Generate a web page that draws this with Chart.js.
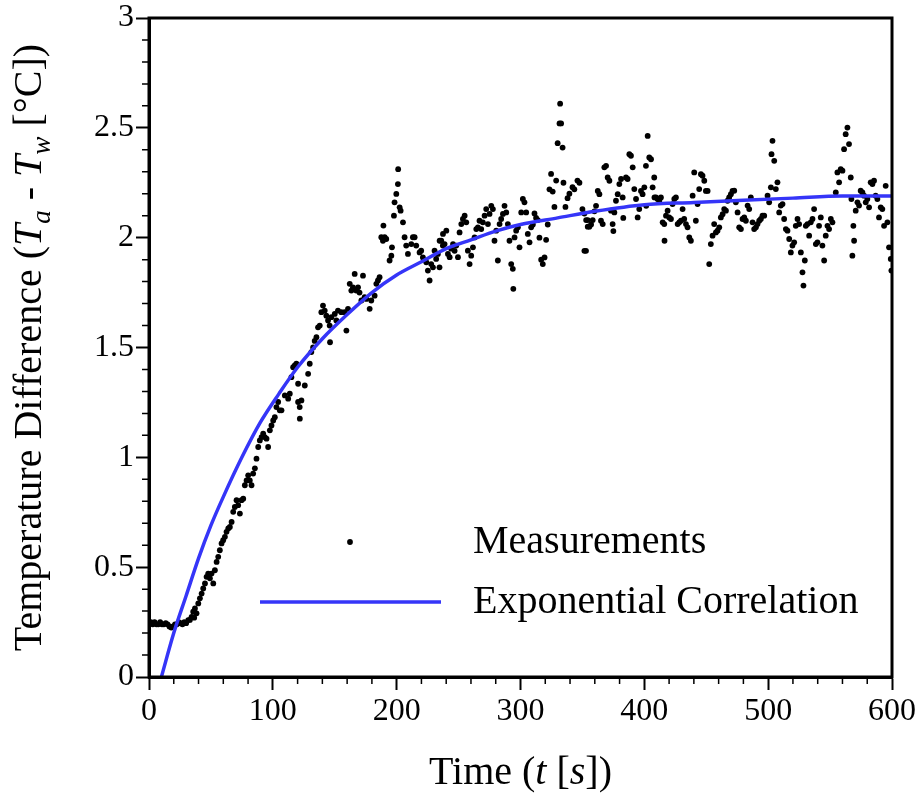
<!DOCTYPE html>
<html>
<head>
<meta charset="utf-8">
<script src="https://cdn.jsdelivr.net/npm/chart.js@4/dist/chart.umd.min.js"></script>
<style>
  html, body { margin: 0; padding: 0; background: #fff; }
</style>
</head>
<body>
<canvas id="myChart" width="922" height="795"></canvas>
<script>
const measTime = [
  0, 1.5, 3, 4.5, 6, 7.5, 9, 10.5, 12, 13.5, 15, 16.5, 18, 19.5, 21, 22.5, 24, 25.5, 27, 28.5, 30,
  31.7, 33, 34.4, 35.7, 36.5, 37.1, 38.4, 39.8, 41.1, 42.5, 43.8, 45.2, 46.5, 47.8, 49.2, 50.5, 51.9, 53.2,
  54.6, 55.9, 57.2, 58.6, 59.9, 61.3, 62.6, 64.0, 65.3, 66.7, 68.0, 69.3, 70.7, 72.0, 73.4, 74.7, 76.1,
  77.4, 78.8, 80.1, 81.4, 82.8, 84.1, 85.5, 86.8, 88.2, 89.5, 90.9, 92.2, 93.5, 94.9, 96.2, 97.6, 98.9,
  100.3, 101.6, 102.9, 104.3, 105.6, 107.0, 109.7, 112.4, 113.7, 115.0, 116.4, 117.7, 120.4, 121.8,
  119.0, 120.4, 121.7, 123.1, 125.8, 128.5, 129.8, 131.1, 132.5, 133.8, 135.2, 136.5, 137.9, 139.2, 140.5,
  141.9, 143.2, 144.6, 145.9, 146.2, 147.3, 150.0, 151.3, 152.6, 155.3, 158.0, 159.4, 160.7, 162.1, 163.4,
  164.7, 166.1, 167.4, 168.8, 170.0, 171.5, 172.8, 174.1, 175.5, 178.2, 179.5, 182.2, 183.6, 184.9, 186.2,
  187.6, 188.9, 189.3, 190.3, 191.6, 194.3, 195.7, 196.2, 197.8, 198.3, 199.7, 201.0, 201.2, 202.4, 203.2,
  205.1, 206.4, 207.7, 209.1, 211.8, 213.1, 214.5, 215.8, 218.5, 219.8, 221.2, 223.9, 225.2, 226.6, 227.9,
  229.3, 230.6, 231.9, 233.3, 234.6, 236.0, 237.3,
  234.7, 237.4, 238.7, 240.1, 241.4, 242.8, 244.0, 245.5, 246.8, 248.1, 249.5, 250.8, 252.2, 253.5, 254.9,
  256.2, 257.5, 258.9, 260.2, 261.6, 262.9, 264.3, 265.6, 266.9, 268.3, 269.6, 271.0, 272.3, 273.7, 275.0,
  276.4, 277.7, 279.0, 280.4, 281.7, 283.1, 284.4, 285.8, 287.1, 288.5, 289.8, 291.1, 292.5, 293.8, 294.2,
  295.2, 296.5, 297.9, 299.2, 300.6, 301.9, 303.2, 304.6, 305.9, 307.3, 308.6, 310.0, 311.3, 312.6, 314.0,
  315.3, 316.7, 318.0, 319.4, 320.7, 322.0, 323.4, 324.7, 326.0, 327.4, 328.8, 330.0, 331.5, 332.0, 332.8,
  334.0, 334.7, 336.3, 338.0, 339.5, 342.0, 343.5, 346.0, 347.6, 350.0, 351.6, 353.0, 354.3,
  351.6, 352.9, 354.3, 355.6, 357.0, 358.3, 359.7, 361.0, 362.4, 363.7, 365.0, 366.4, 367.7, 369.1, 370.4,
  371.8, 373.1, 374.4, 375.0, 375.8, 377.1, 378.5, 379.8, 381.2, 382.5, 383.0, 385.2, 386.5, 387.9, 389.2,
  390.6, 391.9, 393.3, 394.6, 395.9, 397.3, 398.6, 400.0, 401.3, 401.5, 402.7, 404.0, 405.4, 406.7, 408.0,
  408.2, 409.4, 410.7, 412.1, 413.4, 414.8, 416.1, 416.3, 417.5, 418.8, 420.1, 421.5, 422.8, 424.2, 425.5,
  426.9, 428.2, 429.6, 430.9, 432.2, 433.6, 434.9, 436.3, 437.6, 439.0, 440.3, 441.6, 443.0, 444.3, 445.7,
  447.0, 448.4, 449.7, 451.1, 452.4, 453.7, 455.1, 456.4, 457.8, 459.1, 460.5, 461.8, 463.2, 464.5, 465.9,
  467.2, 468.5, 469.9, 471.2,
  472.6, 473.9, 475.3, 476.6, 478.0, 479.3, 480.7, 482.0, 483.4, 484.7, 486.0, 487.4, 488.7, 490.1, 491.4,
  492.8, 494.1, 495.4, 496.8, 499.5, 500.8, 502.2, 502.7, 503.5, 504.9, 506.2, 507.5, 508.9, 510.2, 511.6,
  512.9, 514.3, 515.6, 517.0, 518.3, 519.6, 521.0, 522.3, 523.7, 525.0, 526.4, 527.7, 528.5, 529.6, 530.4,
  531.7, 533.1, 534.4, 535.8, 537.1, 538.5, 539.8, 541.1, 542.5, 543.8, 545.2, 546.5, 547.9, 549.2, 550.6,
  551.9, 554.6, 555.9, 557.3, 558.6, 560.0, 561.3, 562.6, 564.0, 565.3, 566.7, 567.2, 568.0, 568.8, 569.4,
  570.7, 572.1, 573.4, 574.7, 576.1, 577.4, 578.8, 580.1, 581.5, 582.8, 584.2, 585.5, 586.8, 588.2, 589.5,
  590.9, 592.2, 593.6, 594.9, 596.3, 597.6, 599.0, 599.5
];
const measValue = [
  0.24, 0.25, 0.24, 0.25, 0.24, 0.24, 0.25, 0.24, 0.24, 0.245, 0.24, 0.23, 0.225, 0.23, 0.24, 0.24, 0.25, 0.245, 0.24, 0.25, 0.245,
  0.259, 0.26, 0.274, 0.297, 0.27, 0.312, 0.29, 0.335, 0.358, 0.38, 0.403, 0.426, 0.456, 0.471, 0.449, 0.471, 0.426, 0.486,
  0.524, 0.547, 0.577, 0.608, 0.623, 0.638, 0.661, 0.676, 0.683, 0.706, 0.752, 0.774, 0.805, 0.782, 0.744, 0.805, 0.812,
  0.873, 0.895, 0.918, 0.895, 0.873, 0.926, 0.95, 0.994, 1.047, 1.077, 1.092, 1.108, 1.092, 1.085, 1.047, 1.123, 1.145,
  1.168, 1.183, 1.229, 1.252, 1.214, 1.214, 1.282, 1.267, 1.29, 1.365, 1.41, 1.418, 1.252, 1.176,
  1.426, 1.335, 1.229, 1.259, 1.327, 1.38, 1.426, 1.479, 1.50, 1.53, 1.547, 1.592, 1.6, 1.661, 1.691,
  1.668, 1.645, 1.623, 1.6, 1.524, 1.638, 1.653, 1.623, 1.668, 1.661, 1.661, 1.577, 1.676, 1.79, 1.759,
  1.774, 1.835, 1.759, 1.774, 1.75, 1.714, 1.827, 1.729, 1.721, 1.676, 1.714, 1.736, 1.79, 1.805, 1.82,
  2.002, 1.986, 2.055, 2.002, 1.994, 1.896, 1.918, 1.956, 2.1, 2.161, 2.199, 2.244, 2.312, 2.138, 2.123,
  2.07, 2.002, 1.964, 1.926, 1.971, 2.002, 2.002, 1.964, 1.933, 1.941, 1.91, 1.888, 1.85, 1.805, 1.88,
  1.865, 1.941, 1.903, 1.926, 1.865, 1.986, 1.964,
  1.986, 2.017, 1.971, 2.032, 1.926, 1.911, 1.95, 1.971, 1.94, 1.964, 1.911, 2.024, 2.062, 2.085, 2.1,
  2.07, 1.941, 1.88, 1.918, 1.956, 2.001, 2.039, 2.047, 2.077, 2.039, 2.07, 2.1, 2.13, 2.062, 2.108,
  2.145, 2.13, 1.986, 2.032, 1.896, 2.062, 2.085, 2.108, 2.145, 2.115, 2.062, 1.986, 1.88, 1.858, 1.767,
  2.001, 2.032, 2.047, 1.956, 2.115, 2.176, 2.161, 2.115, 2.017, 1.979, 2.047, 2.06, 2.11, 2.09, 2.08,
  2.0, 1.90, 1.88, 1.91, 1.99, 2.06, 2.22, 2.29, 2.21, 2.14, 2.26, 2.43, 2.52, 2.61, 2.52,
  2.41, 2.25, 2.14, 2.18, 2.20, 2.23, 2.22, 2.26, 2.25, 2.13, 1.94, 2.08, 2.05,
  2.11, 1.94, 2.08, 2.05, 2.06, 2.08, 2.12, 2.145, 2.213, 2.198, 2.077, 2.062, 2.32, 2.327, 2.274,
  2.259, 2.123, 2.062, 2.03, 2.115, 2.168, 2.198, 2.244, 2.267, 2.183, 2.09, 2.274, 2.267, 2.38, 2.373,
  2.32, 2.221, 2.176, 2.092, 2.13, 2.213, 2.198, 2.229, 2.327, 2.145, 2.463, 2.365, 2.357, 2.229, 2.274,
  2.183, 2.183, 2.176, 2.168, 2.183, 2.07, 2.062, 1.986, 2.1, 2.123, 2.092, 2.085, 2.153, 2.176, 2.183,
  2.062, 2.07, 2.077, 2.13, 2.085, 2.062, 2.047, 2.001, 1.986, 2.191, 2.297, 2.077, 2.153, 2.221, 2.289,
  2.282, 2.259, 2.213, 2.213, 1.88, 1.971, 2.009, 2.062, 2.024, 2.032, 2.047, 2.092, 2.107, 2.13, 2.123,
  2.168, 2.183, 2.198, 2.213,
  2.214, 2.161, 2.115, 2.047, 2.039, 2.085, 2.092, 2.077, 2.146, 2.13, 2.183, 2.07, 2.039, 2.047, 2.062,
  2.077, 2.085, 2.1, 2.1, 2.191, 2.161, 2.229, 2.38, 2.441, 2.35, 2.221, 2.252, 2.115, 2.146, 2.153,
  2.085, 2.039, 2.032, 1.994, 1.933, 1.964, 1.979, 2.054, 2.085, 2.062, 1.933, 1.842, 1.782, 1.896, 2.054,
  2.062, 2.009, 2.07, 2.085, 2.13, 1.971, 1.979, 2.054, 2.092, 1.964, 1.896, 2.009, 2.054, 2.039, 2.085,
  2.07, 2.206, 2.297, 2.252, 2.312, 2.305, 2.403, 2.471, 2.501, 2.426, 2.274, 2.176, 1.918, 2.054, 1.986,
  2.123, 2.161, 2.146, 2.214, 2.206, 2.191, 2.161, 2.176, 2.138, 2.252, 2.244, 2.259, 2.191, 2.176, 2.092,
  2.138, 2.13, 2.054, 2.236, 2.07, 1.956, 1.903, 1.85
];

// exponential correlation curve
const fitTime = [10, 20, 30, 40, 50, 60, 75, 90, 105, 120, 140, 160, 180, 200, 220, 240, 260, 280, 300, 330, 360, 400, 440, 480, 520, 560, 600];
const fitValue = [0, 0.2, 0.37, 0.54, 0.69, 0.82, 1.0, 1.16, 1.29, 1.41, 1.54, 1.65, 1.75, 1.83, 1.89, 1.95, 1.99, 2.03, 2.06, 2.09, 2.12, 2.15, 2.16, 2.17, 2.18, 2.19, 2.19];

const xTickLabels = ['0', '100', '200', '300', '400', '500', '600'];
const yTickLabels = ['0', '0.5', '1', '1.5', '2', '2.5', '3'];
const seriesNames = ['Measurements', 'Exponential Correlation'];

const SERIF = '"Liberation Serif", "Times New Roman", serif';
const BLUE = '#3535f8';

// text made of runs (italic / subscript parts)
function drawRuns(ctx, runs, x, y, size) {
  let total = 0;
  runs.forEach(r => {
    const s = r.sub ? size * 0.68 : size;
    ctx.font = (r.it ? 'italic ' : '') + s + 'px ' + SERIF;
    r.w = ctx.measureText(r.t).width;
    total += r.w;
  });
  let cx = x - total / 2;
  runs.forEach(r => {
    const s = r.sub ? size * 0.68 : size;
    ctx.font = (r.it ? 'italic ' : '') + s + 'px ' + SERIF;
    ctx.fillText(r.t, cx, y + (r.sub ? size * 0.22 : 0));
    cx += r.w;
  });
}

const framePlugin = {
  id: 'frame',
  afterDraw(chart) {
    const ctx = chart.ctx;
    const a = chart.chartArea;
    const xs = chart.scales.x, ys = chart.scales.y;
    ctx.save();
    ctx.strokeStyle = '#000';
    // minor ticks
    ctx.lineWidth = 1.5;
    ctx.beginPath();
    for (let v = 20; v < 600; v += 20) {
      if (v % 100 === 0) continue;
      const px = xs.getPixelForValue(v);
      ctx.moveTo(px, a.bottom);
      ctx.lineTo(px, a.bottom + 7);
    }
    for (let i = 1; i < 30; i++) {
      if (i % 5 === 0) continue;
      const py = ys.getPixelForValue(i / 10);
      ctx.moveTo(a.left, py);
      ctx.lineTo(a.left - 7, py);
    }
    ctx.stroke();
    // box
    ctx.lineWidth = 3;
    ctx.strokeRect(a.left, a.top, a.right - a.left, a.bottom - a.top);

    // legend
    const meas = chart.data.datasets[1];
    const fit = chart.data.datasets[0];
    ctx.fillStyle = meas.backgroundColor;
    ctx.beginPath();
    ctx.arc(a.left + 201, a.top + 524, meas.pointRadius, 0, Math.PI * 2);
    ctx.fill();
    ctx.strokeStyle = fit.borderColor;
    ctx.lineWidth = fit.borderWidth;
    ctx.beginPath();
    ctx.moveTo(a.left + 111, a.top + 584);
    ctx.lineTo(a.left + 292, a.top + 584);
    ctx.stroke();
    ctx.fillStyle = '#000';
    ctx.textAlign = 'left';
    ctx.textBaseline = 'middle';
    ctx.font = '40px ' + SERIF;
    ctx.fillText(meas.label, a.left + 324, a.top + 524);
    ctx.fillText(fit.label, a.left + 324, a.top + 584);

    // axis titles
    ctx.textBaseline = 'alphabetic';
    drawRuns(ctx, [
      { t: 'Time (' }, { t: 't', it: true }, { t: ' [' }, { t: 's', it: true }, { t: '])' }
    ], (a.left + a.right) / 2, 784, 40);
    ctx.translate(41, (a.top + a.bottom) / 2);
    ctx.rotate(-Math.PI / 2);
    drawRuns(ctx, [
      { t: 'Temperature Difference (' }, { t: 'T', it: true }, { t: 'a', it: true, sub: true },
      { t: ' - ' }, { t: 'T', it: true }, { t: 'w', it: true, sub: true }, { t: ' [\u00B0C])' }
    ], 0, 0, 40);
    ctx.restore();
  }
};

new Chart(document.getElementById('myChart'), {
  type: 'scatter',
  data: {
    datasets: [{
      label: seriesNames[1],
      data: fitTime.map((t, i) => ({ x: t, y: fitValue[i] })),
      showLine: true,
      pointRadius: 0,
      borderColor: BLUE,
      borderWidth: 3.5,
      cubicInterpolationMode: 'monotone',
      order: 1
    }, {
      label: seriesNames[0],
      data: measTime.map((t, i) => ({ x: t, y: measValue[i] })),
      pointRadius: 2.9,
      pointBorderWidth: 0,
      backgroundColor: '#000',
      borderColor: '#000',
      order: 2
    }]
  },
  options: {
    responsive: false,
    animation: false,
    devicePixelRatio: 1,
    layout: { padding: { top: 17, right: 29, left: 0, bottom: 0 } },
    plugins: { legend: { display: false }, tooltip: { enabled: false } },
    scales: {
      x: {
        type: 'linear', min: 0, max: 600,
        afterFit: s => { s.height = 118; },
        border: { display: true, color: '#000', width: 3 },
        grid: { drawOnChartArea: false, drawTicks: true, tickLength: 13, tickWidth: 2, color: '#000' },
        ticks: {
          stepSize: 100, padding: 6, color: '#000', maxRotation: 0,
          font: { family: SERIF, size: 32, lineHeight: 1 },
          callback: v => xTickLabels[Math.round(v / 100)]
        }
      },
      y: {
        type: 'linear', min: 0, max: 3,
        afterFit: s => { s.width = 149; },
        border: { display: true, color: '#000', width: 3 },
        grid: { drawOnChartArea: false, drawTicks: true, tickLength: 13, tickWidth: 2, color: '#000' },
        ticks: {
          stepSize: 0.5, padding: 2, color: '#000',
          font: { family: SERIF, size: 32, lineHeight: 1 },
          callback: v => yTickLabels[Math.round(v * 2)]
        }
      }
    }
  },
  plugins: [framePlugin]
});
</script>
</body>
</html>
